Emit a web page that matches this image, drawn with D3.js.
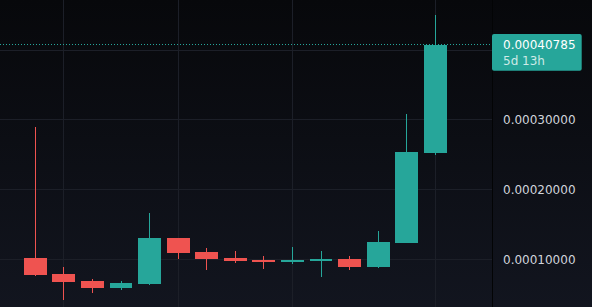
<!DOCTYPE html>
<html>
<head>
<meta charset="utf-8">
<script src="https://cdn.jsdelivr.net/npm/d3@7"></script>
<style>
  html, body { margin: 0; padding: 0; background: #0b0c11; }
  svg { display: block; }
</style>
</head>
<body>
<div id="chart"></div>
<script>
// weekly candles
const weeks = ["2023-02-27","2023-03-06","2023-03-13","2023-03-20","2023-03-27","2023-04-03","2023-04-10",
  "2023-04-17","2023-04-24","2023-05-01","2023-05-08","2023-05-15","2023-05-22","2023-05-29","2023-06-05"];
const opens  = [0.0001019,0.0000789,0.0000689,0.0000592,0.0000650,0.0001306,0.0001105,0.0001019,0.0000994,0.0000966,0.0000980,0.0001009,0.0000894,0.0001238,0.0002530];
const highs  = [0.0002899,0.0000889,0.0000717,0.0000689,0.0001665,0.0001306,0.0001162,0.0001119,0.0001047,0.0001177,0.0001119,0.0001047,0.0001406,0.0003086,0.0004507];
const lows   = [0.0000765,0.0000420,0.0000521,0.0000564,0.0000635,0.0001000,0.0000851,0.0000951,0.0000865,0.0000937,0.0000750,0.0000851,0.0000879,0.0001238,0.0002493];
const closes = [0.0000779,0.0000678,0.0000592,0.0000660,0.0001306,0.0001095,0.0001009,0.0000980,0.0000961,0.0000994,0.0001009,0.0000894,0.0001248,0.0002540,0.00040785];
const priceTicks = [0.0001, 0.0002, 0.0003, 0.0004];
const lastPrice = 0.00040785;
const countdown = "5d 13h";

const W = 592, H = 307;
const plotRight = 492;
const up = "#26a69a", down = "#ef5350";

const data = weeks.map((w, i) => ({ w, o: opens[i], h: highs[i], l: lows[i], c: closes[i] }));

const svg = d3.select("#chart").append("svg")
  .attr("width", W).attr("height", H);

// background gradient
const grad = svg.append("defs").append("linearGradient")
  .attr("id", "bg").attr("x1", 0).attr("y1", 0).attr("x2", 0).attr("y2", 1);
grad.append("stop").attr("offset", "0%").attr("stop-color", "#07080b");
grad.append("stop").attr("offset", "100%").attr("stop-color", "#12151f");
svg.append("rect").attr("width", W).attr("height", H).attr("fill", "url(#bg)");

const x = d3.scaleBand()
  .domain(weeks)
  .range([21, 449.6])
  .paddingInner(0.2)
  .paddingOuter(0.1);

const y = d3.scaleLinear()
  .domain([0.0001, 0.0004])
  .range([259.3, 50.3]);

const cx = d => Math.floor(x(d) + x.bandwidth() / 2) + 0.5;

// grid: horizontal price lines
svg.append("g").selectAll("line")
  .data(priceTicks)
  .enter().append("line")
  .attr("x1", 0).attr("x2", plotRight)
  .attr("y1", d => Math.floor(y(d)) + 0.5)
  .attr("y2", d => Math.floor(y(d)) + 0.5)
  .attr("stroke", "#1c1f28");

// grid: vertical lines on first week of each month
const monthStarts = weeks.filter((w, i) => i > 0 && w.slice(5, 7) !== weeks[i - 1].slice(5, 7));
svg.append("g").selectAll("line")
  .data(monthStarts)
  .enter().append("line")
  .attr("x1", d => cx(d)).attr("x2", d => cx(d))
  .attr("y1", 0).attr("y2", H)
  .attr("stroke", "#1c1f28");

// last price dotted line
const py = Math.floor(y(lastPrice)) + 0.5;
svg.append("line")
  .attr("x1", 0).attr("x2", plotRight)
  .attr("y1", py).attr("y2", py)
  .attr("stroke", up)
  .attr("stroke-dasharray", "1 2");

// candles
const candles = svg.append("g").selectAll("g")
  .data(data)
  .enter().append("g")
  .attr("fill", d => d.c >= d.o ? up : down)
  .attr("stroke", d => d.c >= d.o ? up : down);

candles.append("line")
  .attr("x1", d => cx(d.w)).attr("x2", d => cx(d.w))
  .attr("y1", d => Math.round(y(d.h)))
  .attr("y2", d => Math.round(y(d.l)));

candles.append("rect")
  .attr("stroke", "none")
  .attr("x", d => Math.round(x(d.w)))
  .attr("width", d => Math.round(x(d.w) + x.bandwidth()) - Math.round(x(d.w)))
  .attr("y", d => Math.round(y(Math.max(d.o, d.c))))
  .attr("height", d => Math.max(1, Math.round(y(Math.min(d.o, d.c))) - Math.round(y(Math.max(d.o, d.c)))));

// price scale separator
svg.append("line")
  .attr("x1", plotRight + 0.5).attr("x2", plotRight + 0.5)
  .attr("y1", 0).attr("y2", H)
  .attr("stroke", "#030405");

// price labels (the one hidden under the last-price tag is skipped)
const fmt = d3.format(".8f");
const tagTop = 34, tagH = 36.7;
svg.append("g").selectAll("text")
  .data(priceTicks.filter(d => y(d) - 8 > tagTop + tagH || y(d) + 8 < tagTop))
  .enter().append("text")
  .attr("x", 503)
  .attr("y", d => y(d) + 4.4)
  .attr("fill", "#d1d4dc")
  .style("font-family", "DejaVu Sans, sans-serif")
  .style("font-size", "12px")
  .text(d => fmt(d));

// last price tag
const tag = svg.append("g");
tag.append("rect")
  .attr("x", plotRight).attr("y", tagTop)
  .attr("width", 89.7).attr("height", tagH)
  .attr("rx", 2)
  .attr("fill", up);
tag.append("text")
  .attr("x", 503).attr("y", 49.3)
  .attr("fill", "#ffffff")
  .style("font-family", "DejaVu Sans, sans-serif")
  .style("font-size", "12px")
  .text(fmt(lastPrice));
tag.append("text")
  .attr("x", 503).attr("y", 65)
  .attr("fill", "#ffffff").attr("fill-opacity", 0.78)
  .style("font-family", "DejaVu Sans, sans-serif")
  .style("font-size", "12px")
  .text(countdown);
</script>
</body>
</html>
